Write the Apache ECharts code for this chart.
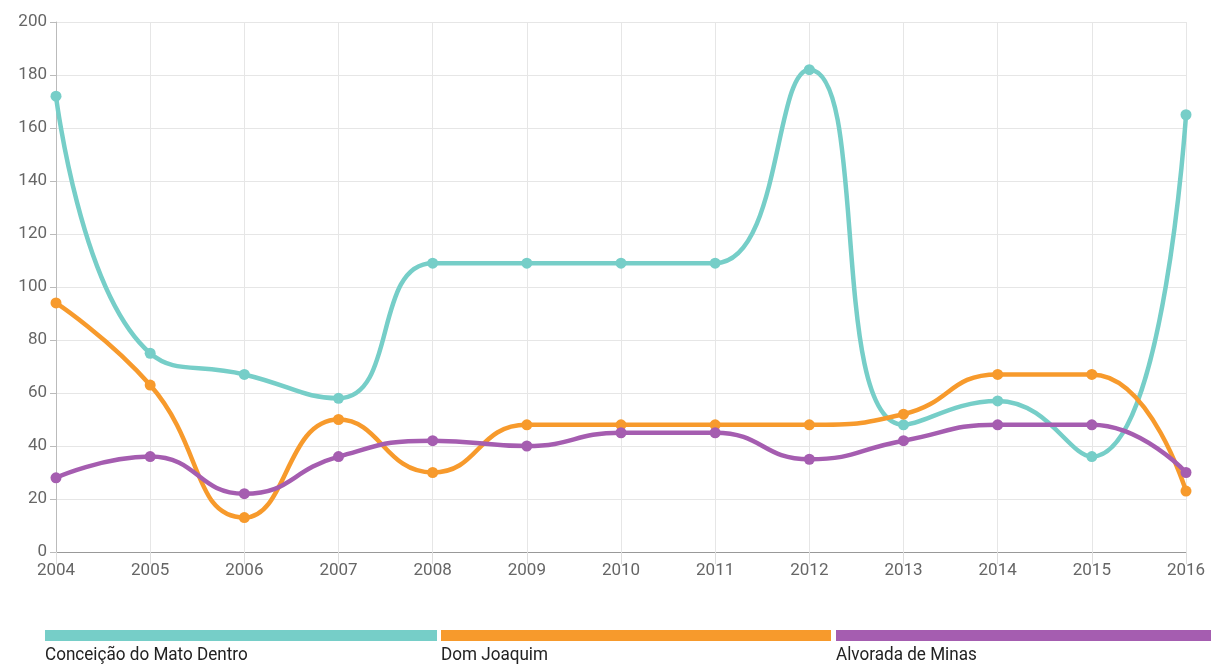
<!DOCTYPE html>
<html><head><meta charset="utf-8">
<script src="https://cdn.jsdelivr.net/npm/echarts@6/dist/echarts.min.js"></script>
<style>html,body{margin:0;padding:0;background:#fff}#c{width:1211px;height:668px}</style>
</head><body><div id="c"></div>
<script>
const years = ['2004','2005','2006','2007','2008','2009','2010','2011','2012','2013','2014','2015','2016'];
const seriesNames = ['Conceição do Mato Dentro','Dom Joaquim','Alvorada de Minas'];
const conceicao = [172,75,67,58,109,109,109,109,182,48,57,36,165];
const domJoaquim = [94,63,13,50,30,48,48,48,48,52,67,67,23];
const alvorada = [28,36,22,36,42,40,45,45,35,42,48,48,30];
const colors = ['#76cec8','#f79a2c','#a55db0'];
const seriesData = [conceicao, domJoaquim, alvorada];

const font = "Roboto,'Liberation Sans',sans-serif";
const chart = echarts.init(document.getElementById('c'), null, {renderer:'canvas'});

const legendX = [45, 441, 836];
const legendW = [392, 390, 375];
const graphic = [];
seriesNames.forEach((n,i)=>{
  graphic.push({type:'rect', x:legendX[i], y:630, shape:{width:legendW[i], height:11}, style:{fill:colors[i]}});
  graphic.push({type:'text', x:legendX[i], y:646, scaleX:0.9,
    style:{text:n, fill:'#222', font:'19px '+font, verticalAlign:'top', align:'left'}});
});

chart.setOption({
  animation:false,
  color: colors,
  grid:{left:56, right:25, top:22, bottom:116, containLabel:false},
  xAxis:{type:'category', data:years, boundaryGap:false,
    axisLine:{lineStyle:{color:'#999', width:1}},
    axisTick:{show:true, length:12, lineStyle:{color:'#ddd'}},
    axisLabel:{color:'#666', fontSize:17, fontFamily:font, margin:10},
    splitLine:{show:true, lineStyle:{color:'#e6e6e6'}}},
  yAxis:{type:'value', min:0, max:200, interval:20,
    axisLine:{show:true, lineStyle:{color:'#bbb'}},
    axisTick:{show:true, length:6, lineStyle:{color:'#bbb'}},
    axisLabel:{color:'#666', fontSize:17, fontFamily:font, margin:9},
    splitLine:{lineStyle:{color:'#e6e6e6'}}},
  series: seriesNames.map((n,i)=>({
    name:n, type:'line', data:seriesData[i], smooth:0.5,
    symbol:'circle', symbolSize:11,
    lineStyle:{width:4.5, color:colors[i]},
    itemStyle:{color:colors[i]}
  })),
  graphic: graphic
});
</script></body></html>
